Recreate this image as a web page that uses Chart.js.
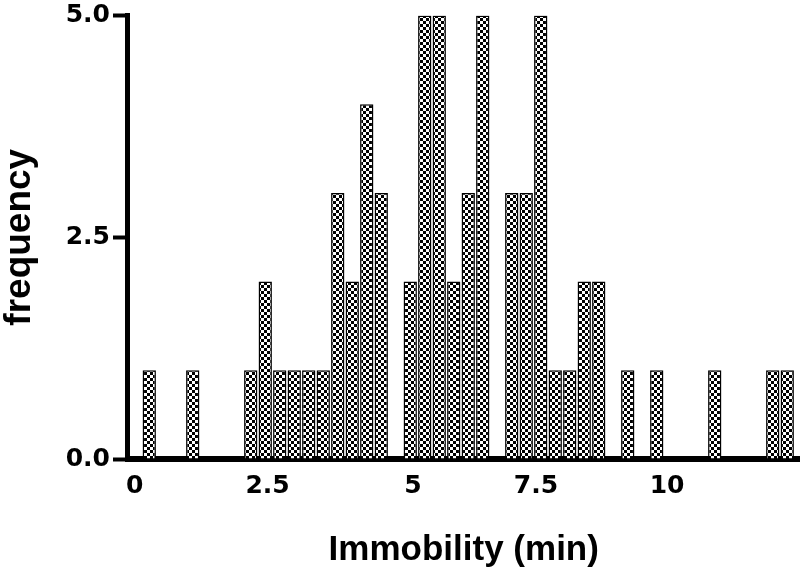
<!DOCTYPE html>
<html><head><meta charset="utf-8">
<script src="https://cdn.jsdelivr.net/npm/chart.js@4.4.1/dist/chart.umd.min.js"></script>
<style>html,body{margin:0;padding:0;background:#fff}#wrap{width:800px;height:569px}</style>
</head><body><div id="wrap"><canvas id="c" width="800" height="569"></canvas></div>
<script>
// bin index (0 = first bin at the y axis)
const bins = Array.from({length: 46}, (_, i) => i);
const counts = [0,1,0,0,1,0,0,0,1,2,1,1,1,1,3,2,4,3,0,2,5,5,2,3,5,0,3,3,5,1,1,2,2,0,1,0,1,0,0,0,1,0,0,0,1,1];
const yTicks = [0, 2.5, 5];
const xTickPos = [0, 9.16, 19.19, 27.67, 36.71];
const xTickLabels = ['0', '2.5', '5', '7.5', '10'];

const pc = document.createElement('canvas'); pc.width = 6; pc.height = 6;
const pg = pc.getContext('2d');
pg.fillStyle = '#fff'; pg.fillRect(0, 0, 6, 6);
pg.fillStyle = '#000'; pg.fillRect(0, 0, 3, 3); pg.fillRect(3, 3, 3, 3);
const ctx = document.getElementById('c').getContext('2d');
const pattern = ctx.createPattern(pc, 'repeat');

const tickFont = {family: 'DejaVu Sans', weight: 'bold', size: 25, lineHeight: 1};

new Chart(ctx, {
  type: 'bar',
  data: {
    datasets: [{
      data: bins.map((b, i) => ({x: b, y: counts[i]})),
      backgroundColor: pattern,
      borderColor: '#000',
      borderWidth: 1.5,
      barPercentage: 0.92,
      categoryPercentage: 1
    }]
  },
  options: {
    responsive: false, animation: false, devicePixelRatio: 1,
    layout: {padding: {top: 14, right: 0, bottom: 0, left: 0}},
    plugins: {legend: {display: false}, tooltip: {enabled: false}},
    scales: {
      x: {
        type: 'linear', min: -0.5, max: 45.88, offset: false, z: 1,
        grid: {display: false, drawTicks: false},
        border: {display: true, color: '#000', width: 6},
        afterBuildTicks: s => { s.ticks = xTickPos.map(v => ({value: v})); },
        ticks: {autoSkip: false, maxRotation: 0, padding: 15, color: '#000', font: tickFont,
                callback: (v, i) => xTickLabels[i]},
        title: {display: true, text: 'Immobility (min)', color: '#000',
                font: {family: 'Liberation Sans', weight: 'bold', size: 35, lineHeight: 1},
                padding: {top: 0, bottom: 1}},
        afterFit: s => { s.height = 110; }
      },
      y: {
        min: 0, max: 5, z: 1,
        afterBuildTicks: s => { s.ticks = yTicks.map(v => ({value: v})); },
        grid: {drawOnChartArea: false, drawTicks: true, tickLength: 14.5, tickWidth: 4, tickColor: '#000'},
        border: {display: true, color: '#000', width: 5},
        ticks: {padding: 3, color: '#000', font: tickFont, callback: v => Number(v).toFixed(1)},
        title: {display: true, text: 'frequency', color: '#000',
                font: {family: 'Liberation Sans', weight: 'bold', size: 37, lineHeight: 1},
                padding: {top: 1, bottom: 0}},
        afterFit: s => { s.width = 127.5; }
      }
    }
  }
});
</script></body></html>
